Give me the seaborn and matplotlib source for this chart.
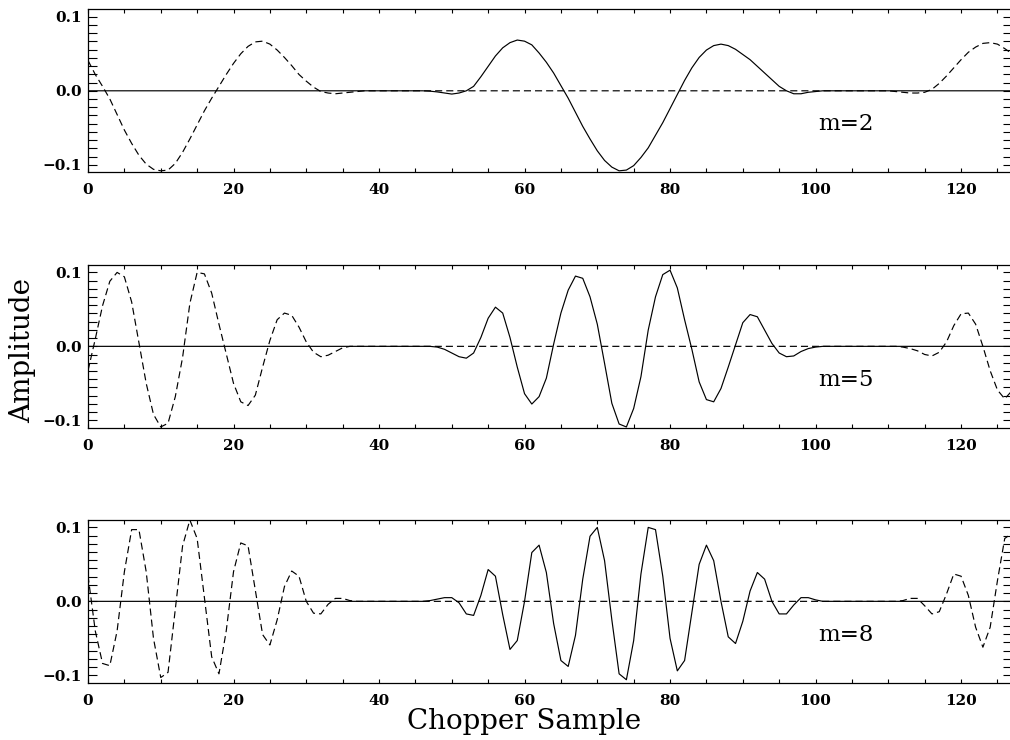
import numpy as np
import pandas as pd
import matplotlib
matplotlib.use("Agg")
import matplotlib.pyplot as plt
import seaborn as sns
from matplotlib.ticker import MultipleLocator, FixedLocator, FuncFormatter

# ---------------- data ----------------
n_samples = 128
labels = ["m=2", "m=5", "m=8"]

# dashed series: values for samples 0..37 and 110..127 (zero between)
a2_left = [0.041, 0.022, 0.006, -0.011, -0.032, -0.053, -0.071, -0.087, -0.099, -0.106,
           -0.108, -0.107, -0.098, -0.083, -0.065, -0.046, -0.027, -0.010, 0.006, 0.022,
           0.037, 0.050, 0.060, 0.066, 0.067, 0.063, 0.055, 0.045, 0.034, 0.022,
           0.013, 0.005, -0.001, -0.003, -0.004, -0.003, -0.002, -0.001]
a2_right = [0.000, -0.001, -0.002, -0.003, -0.003, -0.002, 0.002, 0.010, 0.020, 0.031,
            0.042, 0.052, 0.059, 0.064, 0.065, 0.063, 0.057, 0.050]

a5_left = [-0.033, 0.010, 0.055, 0.088, 0.100, 0.094, 0.060, 0.005, -0.050, -0.092,
           -0.109, -0.104, -0.068, -0.015, 0.058, 0.100, 0.098, 0.072, 0.030, -0.010,
           -0.050, -0.075, -0.080, -0.066, -0.028, 0.008, 0.036, 0.045, 0.042, 0.026,
           0.006, -0.008, -0.014, -0.012, -0.007, -0.002, 0.000, 0.000]
a5_right = [0.000, 0.000, -0.001, -0.003, -0.006, -0.011, -0.013, -0.008, 0.006, 0.028,
            0.044, 0.045, 0.030, 0.000, -0.033, -0.059, -0.071, -0.060]

a8_left = [0.035, -0.040, -0.084, -0.087, -0.040, 0.040, 0.097, 0.097, 0.040, -0.050,
           -0.103, -0.096, -0.010, 0.075, 0.110, 0.085, 0.005, -0.075, -0.098, -0.040,
           0.040, 0.079, 0.075, 0.015, -0.045, -0.059, -0.025, 0.020, 0.041, 0.034,
           0.000, -0.016, -0.017, -0.004, 0.004, 0.004, 0.001, 0.000]
a8_right = [0.000, 0.000, 0.001, 0.004, 0.004, -0.006, -0.017, -0.014, 0.010, 0.037,
            0.034, 0.008, -0.035, -0.062, -0.035, 0.028, 0.085, 0.092]

# solid series: values for samples 45..101 (zero elsewhere)
b2_mid = [0.000, 0.000, -0.0005, -0.0015, -0.003, -0.0044, -0.003, 0.000, 0.006, 0.019,
          0.033, 0.047, 0.058, 0.065, 0.0685, 0.067, 0.062, 0.051, 0.0385, 0.024,
          0.007, -0.010, -0.029, -0.048, -0.065, -0.081, -0.094, -0.103, -0.108, -0.107,
          -0.101, -0.090, -0.077, -0.060, -0.043, -0.024, -0.005, 0.014, 0.031, 0.045,
          0.055, 0.061, 0.063, 0.061, 0.056, 0.049, 0.042, 0.033, 0.024, 0.015,
          0.006, 0.000, -0.004, -0.004, -0.002, -0.001, 0.000]
b5_mid = [0.000, 0.000, 0.000, -0.001, -0.004, -0.009, -0.014, -0.016, -0.009, 0.012,
          0.038, 0.053, 0.045, 0.012, -0.028, -0.064, -0.078, -0.068, -0.043, 0.003,
          0.045, 0.076, 0.095, 0.092, 0.067, 0.030, -0.023, -0.077, -0.105, -0.109,
          -0.084, -0.041, 0.022, 0.067, 0.097, 0.103, 0.079, 0.036, -0.004, -0.048,
          -0.072, -0.075, -0.057, -0.028, 0.002, 0.032, 0.043, 0.040, 0.022, 0.004,
          -0.009, -0.014, -0.013, -0.007, -0.003, -0.001, 0.000]
b8_mid = [0.000, 0.000, 0.001, 0.003, 0.005, 0.005, -0.002, -0.017, -0.019, 0.008,
          0.043, 0.034, -0.018, -0.065, -0.053, 0.000, 0.066, 0.076, 0.039, -0.030,
          -0.080, -0.088, -0.046, 0.030, 0.088, 0.100, 0.055, -0.025, -0.098, -0.106,
          -0.053, 0.037, 0.100, 0.097, 0.034, -0.050, -0.094, -0.080, -0.015, 0.050,
          0.076, 0.055, 0.000, -0.048, -0.057, -0.027, 0.014, 0.039, 0.030, 0.000,
          -0.017, -0.017, -0.005, 0.005, 0.005, 0.002, 0.000]

x_ticks = [0, 20, 40, 60, 80, 100, 120]
y_ticks = [-0.1, 0.0, 0.1]


def dashed_series(left, right):
    mid = [0.0] * (n_samples - len(left) - len(right))
    return np.array(left + mid + right)


def solid_series(mid, start=45):
    return np.array([0.0] * start + mid + [0.0] * (n_samples - start - len(mid)))


dashed = [dashed_series(a2_left, a2_right), dashed_series(a5_left, a5_right),
          dashed_series(a8_left, a8_right)]
solid = [solid_series(b2_mid), solid_series(b5_mid), solid_series(b8_mid)]
samples = np.arange(n_samples)

# ---------------- figure ----------------
sns.set_theme(style="white")
plt.rcParams['font.family'] = ['DejaVu Serif', 'DejaVu Sans']
plt.rcParams['axes.unicode_minus'] = True

W, H = 1010, 740
fig = plt.figure(figsize=(W / 100, H / 100), dpi=100)
fig.patch.set_facecolor("white")

panel_px = [(9.3, 172.3), (265.0, 427.7), (520.0, 682.7)]
label_px = [(846, 124), (846, 380), (846, 635)]

tick_font = dict(family='DejaVu Serif', weight='bold', size=11)


def fmt_y(v, pos):
    return f"{v:.1f}".replace('-', '\u2212')


for i in range(3):
    top, bot = panel_px[i]
    ax = fig.add_axes([88 / W, (H - bot) / H, 924 / W, (bot - top) / H])
    ax.set_facecolor("white")
    df = pd.DataFrame({"sample": samples, "solid": solid[i], "dashed": dashed[i]})
    sns.lineplot(data=df, x="sample", y="dashed", ax=ax, color="black",
                 linewidth=0.85, estimator=None)
    ax.lines[-1].set_dashes([6.0, 3.4])
    sns.lineplot(data=df, x="sample", y="solid", ax=ax, color="black",
                 linewidth=0.85, estimator=None)

    ax.set_xlim(0, 127)
    ax.set_ylim(-0.11, 0.11)
    ax.set_xlabel("")
    ax.set_ylabel("")
    ax.xaxis.set_major_locator(FixedLocator(x_ticks))
    ax.xaxis.set_minor_locator(MultipleLocator(5))
    ax.yaxis.set_major_locator(FixedLocator(y_ticks))
    ax.yaxis.set_minor_locator(MultipleLocator(0.1 / 9))
    ax.yaxis.set_major_formatter(FuncFormatter(fmt_y))
    ax.tick_params(axis='x', which='both', direction='in', top=True, bottom=True,
                   length=2.9, width=0.8, color='black', pad=8.0)
    ax.tick_params(axis='y', which='both', direction='in', left=True, right=True,
                   length=6.3, width=0.8, color='black', pad=4.5)
    for lab in ax.get_xticklabels() + ax.get_yticklabels():
        lab.set_fontfamily(tick_font['family'])
        lab.set_fontweight(tick_font['weight'])
        lab.set_fontsize(tick_font['size'])
        lab.set_color('black')
    for sp in ax.spines.values():
        sp.set_visible(True)
        sp.set_color('black')
        sp.set_linewidth(0.9)

    lx, ly = label_px[i]
    fig.text(lx / W, 1 - ly / H, labels[i], ha='center', va='center',
             fontsize=16.5, color='black')

fig.text(524.5 / W, 1 - 729 / H, "Chopper Sample", ha='center', va='baseline',
         fontsize=20, color='black')
fig.text(23 / W, 1 - 350 / H, "Amplitude", rotation=90, ha='center', va='center',
         fontsize=20, color='black')

fig.savefig("out.png", dpi=100, facecolor="white")
